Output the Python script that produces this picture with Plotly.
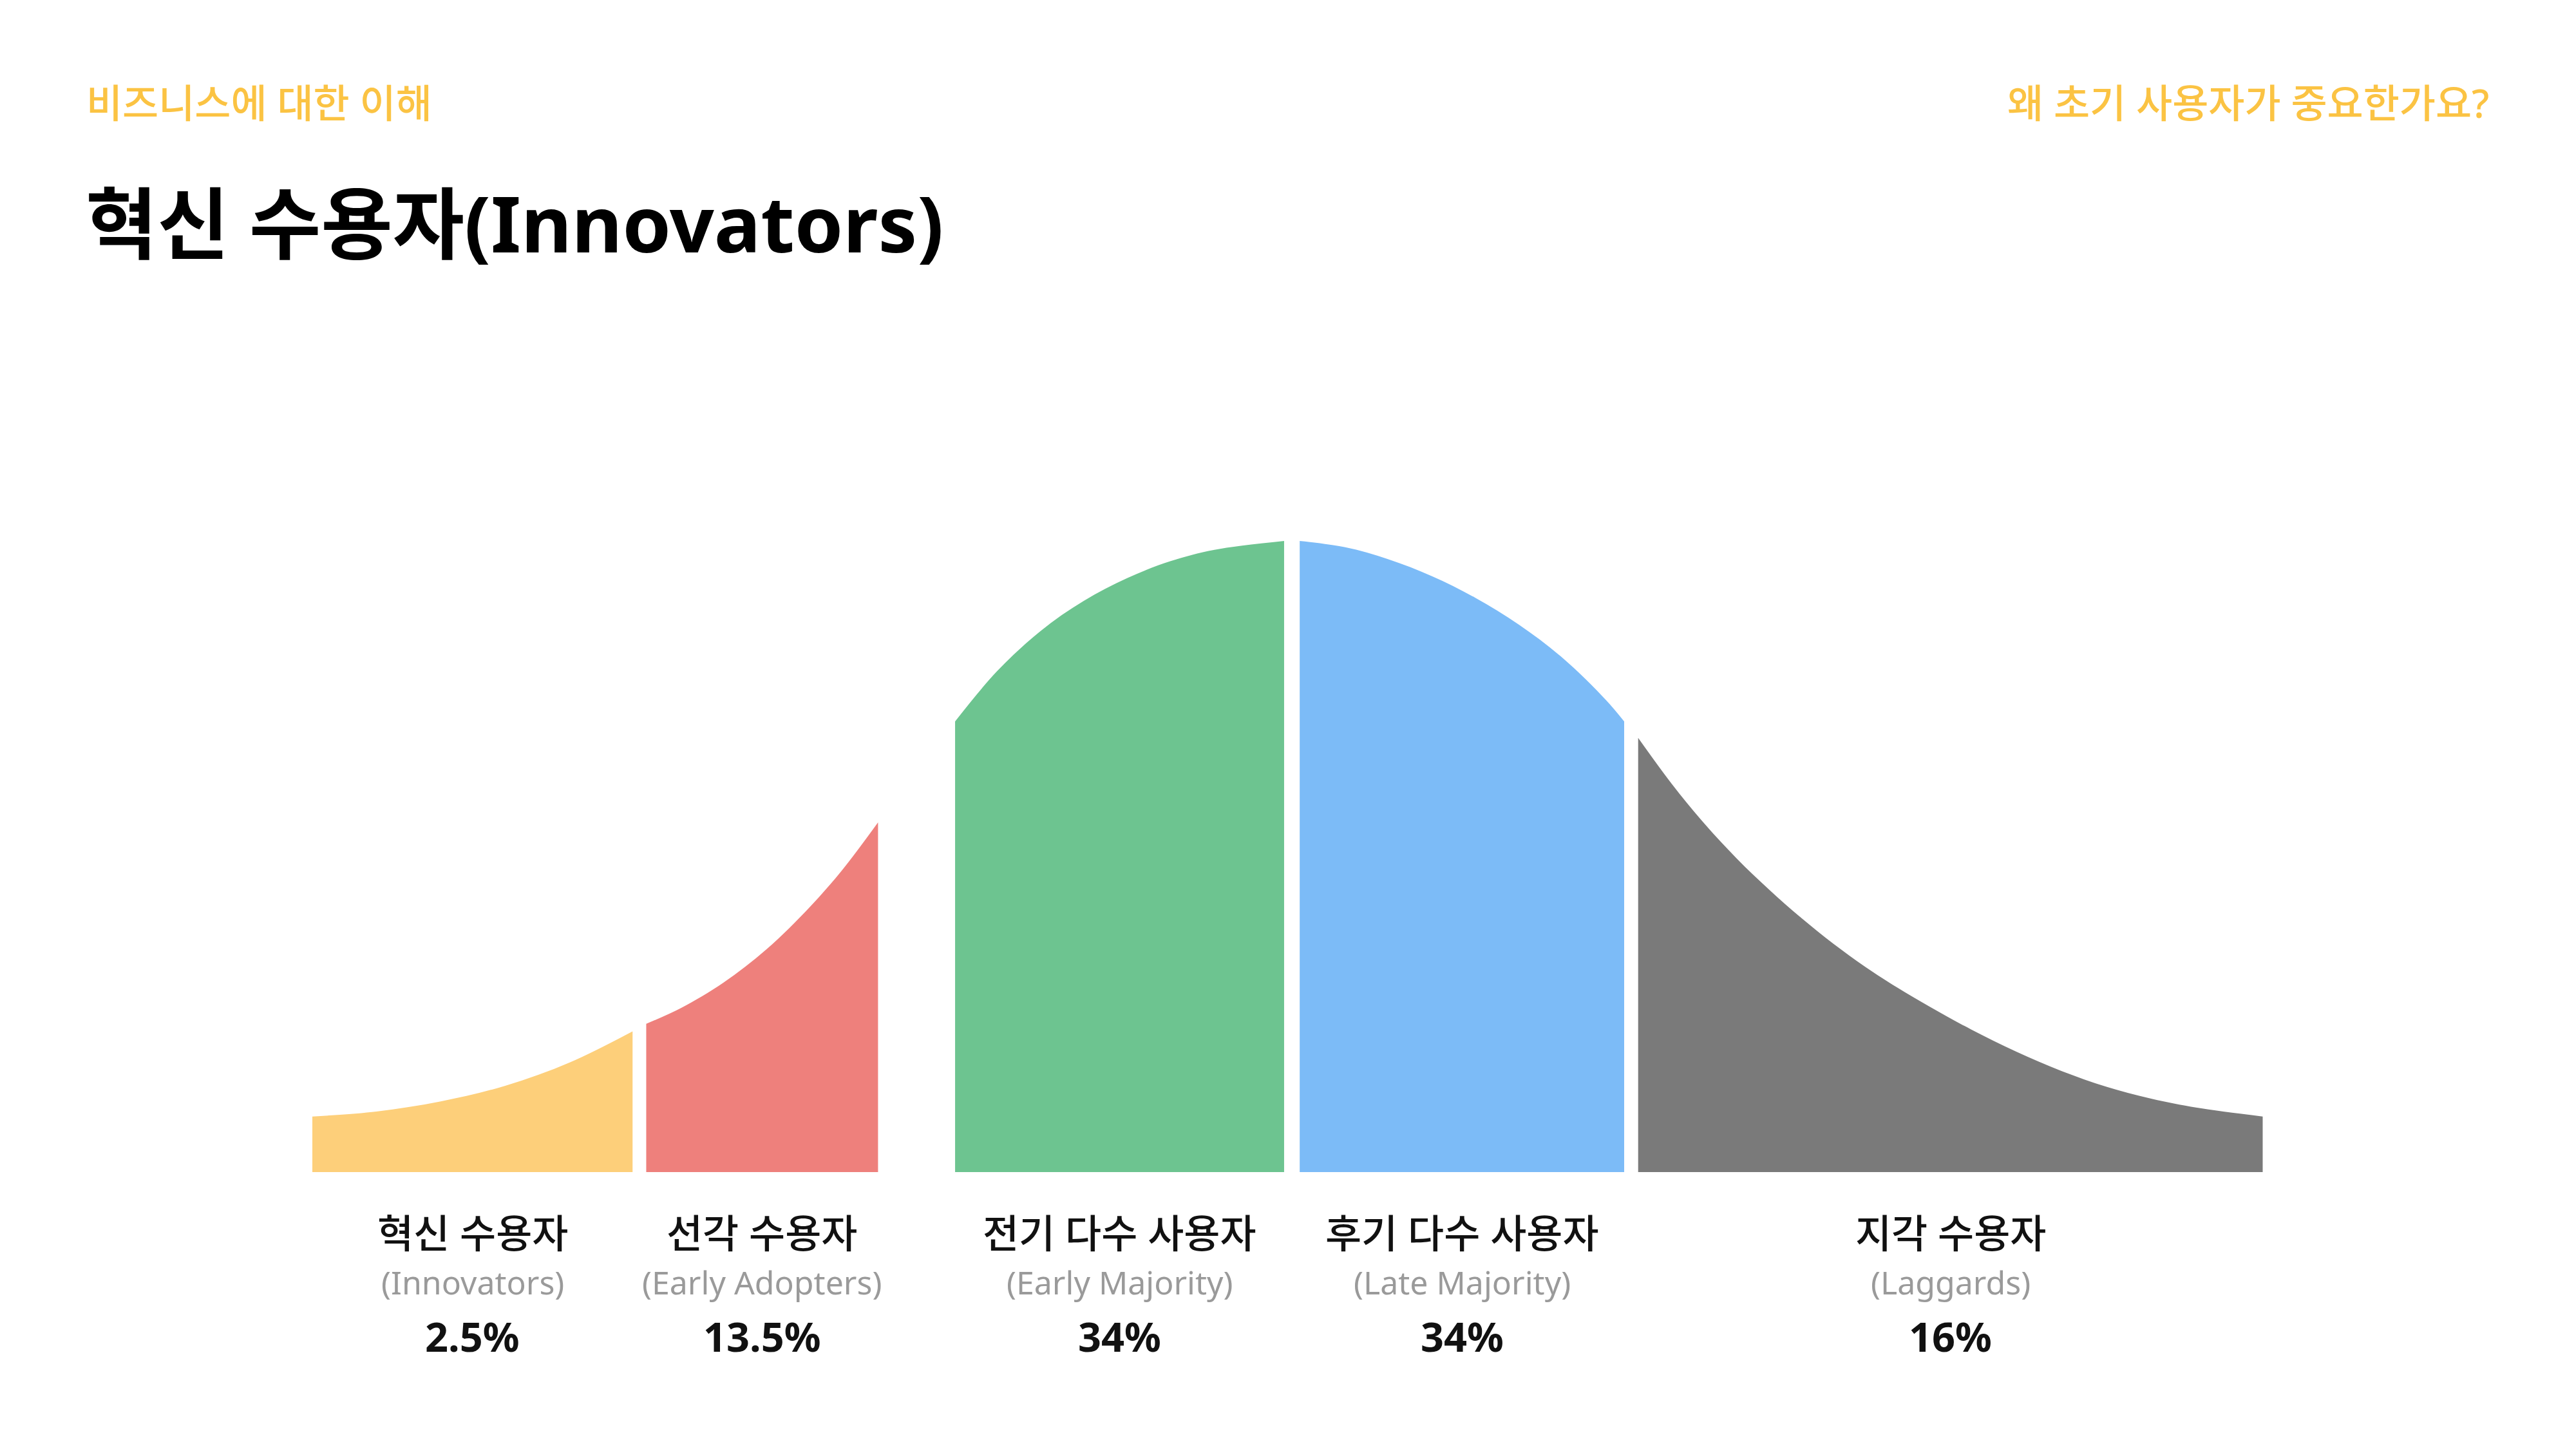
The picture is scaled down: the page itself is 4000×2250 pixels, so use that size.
import plotly.graph_objects as go

# ---- data (x in standard deviations from mean, y = relative adoption density, % of peak)
yellow_x = [-3.000, -2.803, -2.605, -2.405, -2.207, -2.015]
yellow_y = [8.8, 9.6, 11.2, 13.7, 17.4, 22.3]

red_x = [-1.973, -1.866, -1.736, -1.603, -1.470, -1.371, -1.260]
red_y = [23.5, 26.0, 30.0, 35.3, 42.0, 47.8, 55.4]

green_x = [-1.023, -0.895, -0.761, -0.627, -0.494, -0.360, -0.225, -0.011]
green_y = [71.4, 79.3, 85.7, 90.5, 94.1, 96.8, 98.6, 100.0]

blue_x = [0.037, 0.177, 0.310, 0.445, 0.577, 0.712, 0.847, 0.979, 1.035]
blue_y = [100.0, 99.0, 97.1, 94.4, 91.0, 86.7, 81.4, 74.8, 71.4]

gray_x = [1.078, 1.183, 1.282, 1.381, 1.480, 1.579, 1.678, 1.777, 1.876, 1.975,
          2.102, 2.240, 2.381, 2.520, 2.658, 2.797, 2.999]
gray_y = [68.8, 61.4, 55.2, 49.7, 44.8, 40.3, 36.2, 32.5, 29.2, 26.2,
          22.6, 19.1, 16.0, 13.5, 11.6, 10.2, 8.8]

names_ko = ["혁신 수용자", "선각 수용자", "전기 다수 사용자", "후기 다수 사용자", "지각 수용자"]
names_en = ["(Innovators)", "(Early Adopters)", "(Early Majority)", "(Late Majority)", "(Laggards)"]
shares = ["2.5%", "13.5%", "34%", "34%", "16%"]

header_left = "비즈니스에 대한 이해"
header_right = "왜 초기 사용자가 중요한가요?"
title = "혁신 수용자(Innovators)"

colors = ["#FDCF7A", "#EE807C", "#6DC490", "#7CBBF7", "#7A7A7A"]

FONT = "Noto Sans, Noto Sans CJK KR, sans-serif"

segments = [(yellow_x, yellow_y), (red_x, red_y), (green_x, green_y),
            (blue_x, blue_y), (gray_x, gray_y)]

fig = go.Figure()
for (xs, ys), c in zip(segments, colors):
    fig.add_trace(go.Scatter(
        x=xs, y=ys, mode="lines", fill="tozeroy",
        line=dict(width=0, shape="spline", smoothing=1.0, color=c),
        fillcolor=c, hoverinfo="skip", showlegend=False))

annotations = []
for (xs, ys), ko, en, sh in zip(segments, names_ko, names_en, shares):
    cx = (xs[0] + xs[-1]) / 2
    annotations.append(dict(x=cx, xref="x", y=0.1489, yref="paper", text=ko,
                            showarrow=False, xanchor="center", yanchor="middle",
                            font=dict(family=FONT, size=61, color="#111111", weight=500)))
    annotations.append(dict(x=cx, xref="x", y=0.1150, yref="paper", text=en,
                            showarrow=False, xanchor="center", yanchor="middle",
                            font=dict(family=FONT, size=50, color="#9A9A9A")))
    annotations.append(dict(x=cx, xref="x", y=0.0780, yref="paper", text=sh,
                            showarrow=False, xanchor="center", yanchor="middle",
                            font=dict(family=FONT, size=63, color="#111111", weight="bold")))

annotations.append(dict(x=0.0330, y=0.9289, xref="paper", yref="paper", text=header_left,
                        showarrow=False, xanchor="left", yanchor="middle",
                        font=dict(family=FONT, size=61, color="#FBC343", weight=500)))
annotations.append(dict(x=0.9668, y=0.9289, xref="paper", yref="paper", text=header_right,
                        showarrow=False, xanchor="right", yanchor="middle",
                        font=dict(family=FONT, size=61, color="#FBC343", weight=500)))
annotations.append(dict(x=0.0328, y=0.8467, xref="paper", yref="paper", text=title,
                        showarrow=False, xanchor="left", yanchor="middle",
                        font=dict(family=FONT, size=121, color="#000000", weight="bold")))

fig.update_layout(
    width=4000, height=2250,
    margin=dict(l=0, r=0, t=0, b=0),
    paper_bgcolor="white", plot_bgcolor="white",
    xaxis=dict(domain=[485 / 4000, 3514 / 4000], range=[-3, 3], visible=False, fixedrange=True),
    yaxis=dict(domain=[(2250 - 1820) / 2250, (2250 - 840) / 2250], range=[0, 100],
               visible=False, fixedrange=True),
    annotations=annotations,
)

fig.write_html("out.html")
